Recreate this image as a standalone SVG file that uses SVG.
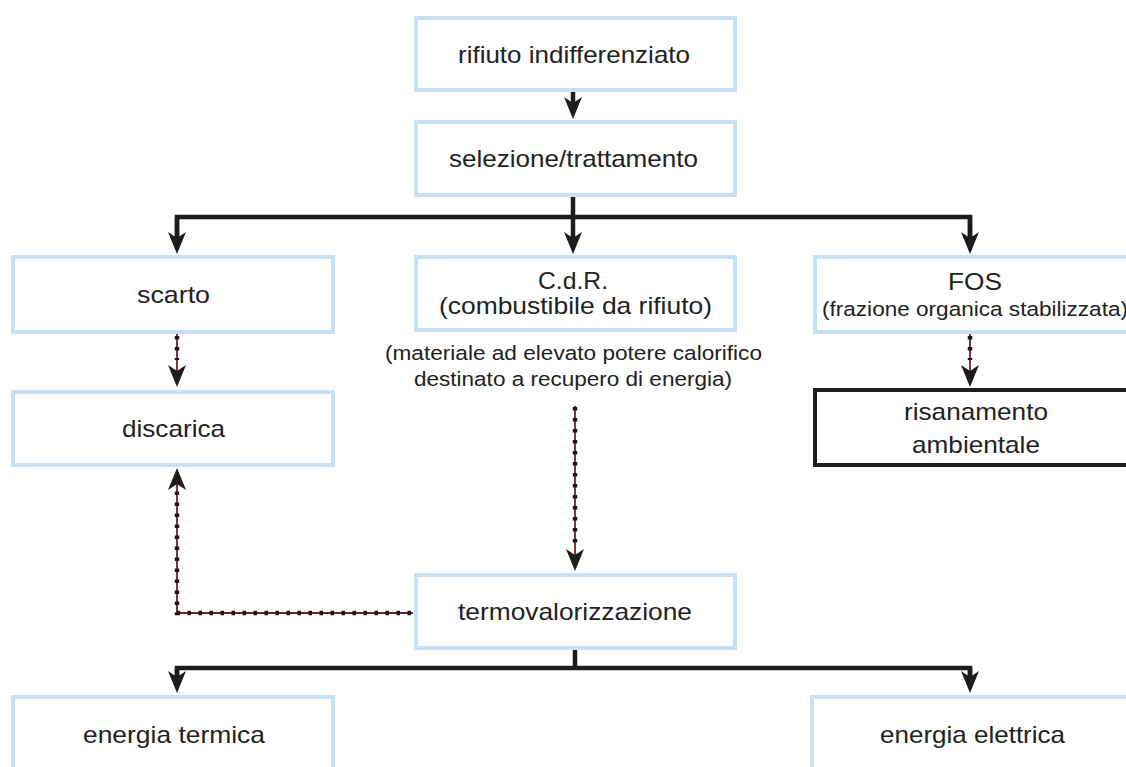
<svg xmlns="http://www.w3.org/2000/svg" width="1126" height="767" viewBox="0 0 1126 767">
  <style>
    .box { fill: #ffffff; stroke: #c7e2f4; stroke-width: 4; }
    .boxdark { fill: #ffffff; stroke: #1e1e1e; stroke-width: 4; }
    .lbl { font-family: "Liberation Sans", Arial, sans-serif; font-size: 24px; fill: #222222; text-anchor: middle; }
    .sm { font-size: 20.5px; }
    .solid { fill: none; stroke: #1c1c1c; stroke-width: 4.5; stroke-linejoin: miter; }
    .thin { fill: none; stroke: #6a2424; stroke-width: 1.8; }
    .dots { fill: none; stroke: #1a1a1a; stroke-width: 4.5; stroke-dasharray: 3.5 7.5; }
  </style>
  <defs>
    <marker id="head" markerUnits="userSpaceOnUse" markerWidth="40" markerHeight="40" refX="0" refY="0" orient="auto" overflow="visible">
      <path d="M16,0 L-6,-9 L0,0 L-6,9 Z" fill="#1c1c1c"/>
    </marker>
  </defs>
  <rect width="1126" height="767" fill="#ffffff"/>

  <!-- connectors -->
  <g id="connectors">
    <path class="solid" d="M573,90 L573,103" marker-end="url(#head)"/>
    <path class="solid" d="M573,195 L573,217"/>
    <path class="solid" d="M177,238 L177,217 L970,217 L970,238"/>
    <path class="solid" d="M177,217 L177,238" marker-end="url(#head)"/>
    <path class="solid" d="M573,217 L573,238" marker-end="url(#head)"/>
    <path class="solid" d="M970,217 L970,238" marker-end="url(#head)"/>

    <path class="thin" d="M177,334 L177,371" marker-end="url(#head)"/>
    <path class="dots" d="M177,336 L177,360"/>
    <path class="thin" d="M970,334 L970,371" marker-end="url(#head)"/>
    <path class="dots" d="M970,336 L970,360"/>

    <path class="thin" d="M575,406 L575,555" marker-end="url(#head)"/>
    <path class="dots" d="M575,407 L575,550"/>

    <path class="thin" d="M413,613 L177,613 L177,484" marker-end="url(#head)"/>
    <path class="dots" d="M411,613 L177,613 L177,486"/>

    <path class="solid" d="M575,648 L575,668"/>
    <path class="solid" d="M177,677 L177,668 L970,668 L970,677"/>
    <path class="solid" d="M177,668 L177,677" marker-end="url(#head)"/>
    <path class="solid" d="M970,668 L970,677" marker-end="url(#head)"/>
  </g>

  <g id="n-rifiuto">
    <rect class="box" x="416" y="18" width="319" height="72"/>
    <text class="lbl" x="574" y="63" textLength="232" lengthAdjust="spacingAndGlyphs">rifiuto indifferenziato</text>
  </g>
  <g id="n-selezione">
    <rect class="box" x="416" y="122" width="319" height="73"/>
    <text class="lbl" x="573.5" y="167" textLength="249" lengthAdjust="spacingAndGlyphs">selezione/trattamento</text>
  </g>
  <g id="n-scarto">
    <rect class="box" x="13" y="257" width="320" height="75"/>
    <text class="lbl" x="173.5" y="303" textLength="73" lengthAdjust="spacingAndGlyphs">scarto</text>
  </g>
  <g id="n-cdr">
    <rect class="box" x="416" y="257" width="319" height="73"/>
    <text class="lbl" x="573" y="289" textLength="70" lengthAdjust="spacingAndGlyphs">C.d.R.</text>
    <text class="lbl" x="575.5" y="314" textLength="273" lengthAdjust="spacingAndGlyphs">(combustibile da rifiuto)</text>
    <text class="lbl sm" x="573.5" y="360" textLength="377" lengthAdjust="spacingAndGlyphs">(materiale ad elevato potere calorifico</text>
    <text class="lbl sm" x="573" y="386" textLength="318" lengthAdjust="spacingAndGlyphs">destinato a recupero di energia)</text>
  </g>
  <g id="n-fos">
    <rect class="box" x="815" y="257" width="330" height="75"/>
    <text class="lbl" x="975" y="290" textLength="54" lengthAdjust="spacingAndGlyphs">FOS</text>
    <text class="lbl sm" x="975" y="316" textLength="306" lengthAdjust="spacingAndGlyphs">(frazione organica stabilizzata)</text>
  </g>
  <g id="n-discarica">
    <rect class="box" x="13" y="392" width="320" height="73"/>
    <text class="lbl" x="173.5" y="437" textLength="103" lengthAdjust="spacingAndGlyphs">discarica</text>
  </g>
  <g id="n-risanamento">
    <rect class="boxdark" x="815" y="390" width="330" height="75"/>
    <text class="lbl" x="976" y="420" textLength="144" lengthAdjust="spacingAndGlyphs">risanamento</text>
    <text class="lbl" x="976" y="453" textLength="128" lengthAdjust="spacingAndGlyphs">ambientale</text>
  </g>
  <g id="n-termo">
    <rect class="box" x="416" y="575" width="319" height="73"/>
    <text class="lbl" x="575" y="620" textLength="234" lengthAdjust="spacingAndGlyphs">termovalorizzazione</text>
  </g>
  <g id="n-termica">
    <rect class="box" x="13" y="697" width="320" height="100"/>
    <text class="lbl" x="174" y="743" textLength="182" lengthAdjust="spacingAndGlyphs">energia termica</text>
  </g>
  <g id="n-elettrica">
    <rect class="box" x="812" y="697" width="330" height="100"/>
    <text class="lbl" x="972.5" y="743" textLength="185" lengthAdjust="spacingAndGlyphs">energia elettrica</text>
  </g>
</svg>
